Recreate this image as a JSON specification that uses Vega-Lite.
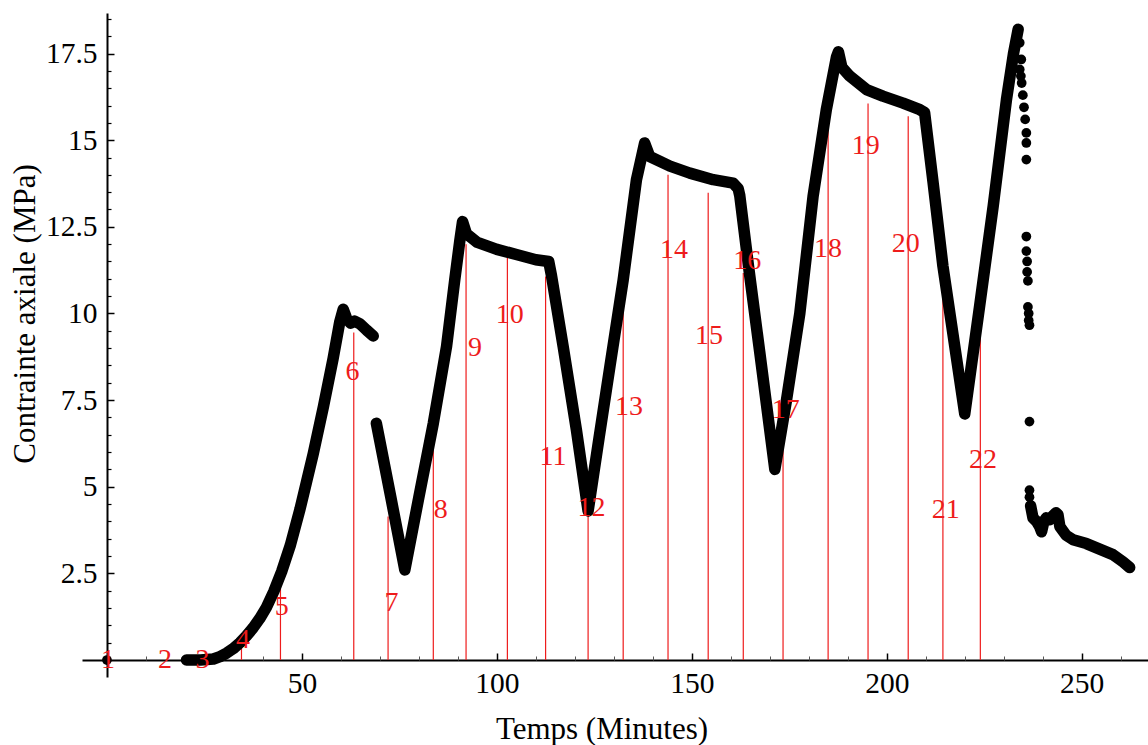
{
  "$schema": "https://vega.github.io/schema/vega-lite/v6.json",
  "width": 1066,
  "height": 664,
  "autosize": {"type": "none"},
  "padding": {"left": 82, "top": 13, "right": 0, "bottom": 68},
  "background": "white",
  "config": {
    "view": {"stroke": null},
    "axis": {"labelFont": "Liberation Serif", "titleFont": "Liberation Serif", "grid": false, "domainColor": "black", "tickColor": "black", "labelColor": "black", "titleColor": "black", "titleFontWeight": "normal", "labelFlush": false, "labelOverlap": false}
  },
  "resolve": {"axis": {"x": "independent", "y": "independent"}},
  "datasets": {
    "curve": [
      {"s": "A", "t": 20.4, "v": 0}, {"s": "A", "t": 24, "v": 0}, {"s": "A", "t": 27.3, "v": 0.03}, {"s": "A", "t": 29, "v": 0.1}, {"s": "A", "t": 30.7, "v": 0.2}, {"s": "A", "t": 32.4, "v": 0.33}, {"s": "A", "t": 34.1, "v": 0.5}, {"s": "A", "t": 35.8, "v": 0.7}, {"s": "A", "t": 37.5, "v": 0.93}, {"s": "A", "t": 39.2, "v": 1.2}, {"s": "A", "t": 40.9, "v": 1.52}, {"s": "A", "t": 42.8, "v": 1.98}, {"s": "A", "t": 44.8, "v": 2.55}, {"s": "A", "t": 47, "v": 3.3}, {"s": "A", "t": 49.5, "v": 4.35}, {"s": "A", "t": 51.2, "v": 5.15}, {"s": "A", "t": 52.9, "v": 5.95}, {"s": "A", "t": 55.5, "v": 7.3}, {"s": "A", "t": 58.0, "v": 8.7}, {"s": "A", "t": 59.7, "v": 9.75}, {"s": "A", "t": 60.6, "v": 10.12}, {"s": "A", "t": 61.5, "v": 9.85}, {"s": "A", "t": 62.5, "v": 9.72}, {"s": "A", "t": 63.5, "v": 9.78}, {"s": "A", "t": 64.9, "v": 9.7}, {"s": "A", "t": 66.6, "v": 9.52}, {"s": "A", "t": 68.3, "v": 9.35},
      {"s": "B", "t": 69.1, "v": 6.83}, {"s": "B", "t": 72.8, "v": 4.7}, {"s": "B", "t": 76.4, "v": 2.6}, {"s": "B", "t": 80, "v": 4.7}, {"s": "B", "t": 83.7, "v": 6.83}, {"s": "B", "t": 87.1, "v": 9.05}, {"s": "B", "t": 89.2, "v": 10.97}, {"s": "B", "t": 90.5, "v": 12.1}, {"s": "B", "t": 91.2, "v": 12.65}, {"s": "B", "t": 92.2, "v": 12.3}, {"s": "B", "t": 95, "v": 12.05}, {"s": "B", "t": 100, "v": 11.85}, {"s": "B", "t": 105, "v": 11.7}, {"s": "B", "t": 110, "v": 11.55}, {"s": "B", "t": 113.3, "v": 11.5}, {"s": "B", "t": 114, "v": 11.1}, {"s": "B", "t": 117, "v": 9.05}, {"s": "B", "t": 120.4, "v": 6.64}, {"s": "B", "t": 123.4, "v": 4.3}, {"s": "B", "t": 126.2, "v": 6.4}, {"s": "B", "t": 129, "v": 8.47}, {"s": "B", "t": 132.4, "v": 10.97}, {"s": "B", "t": 135.8, "v": 13.86}, {"s": "B", "t": 137.9, "v": 14.92}, {"s": "B", "t": 139.2, "v": 14.53}, {"s": "B", "t": 144.4, "v": 14.25}, {"s": "B", "t": 149.5, "v": 14.05}, {"s": "B", "t": 155.5, "v": 13.86}, {"s": "B", "t": 160.6, "v": 13.76}, {"s": "B", "t": 161.9, "v": 13.6}, {"s": "B", "t": 162.3, "v": 13.4}, {"s": "B", "t": 164.5, "v": 11.4}, {"s": "B", "t": 167.4, "v": 8.9}, {"s": "B", "t": 171.3, "v": 5.5}, {"s": "B", "t": 174.3, "v": 7.51}, {"s": "B", "t": 177.7, "v": 10.0}, {"s": "B", "t": 181.1, "v": 13.38}, {"s": "B", "t": 184.5, "v": 15.88}, {"s": "B", "t": 187.1, "v": 17.4}, {"s": "B", "t": 187.6, "v": 17.55}, {"s": "B", "t": 188.5, "v": 17.1}, {"s": "B", "t": 190.5, "v": 16.85}, {"s": "B", "t": 194.8, "v": 16.46}, {"s": "B", "t": 199, "v": 16.27}, {"s": "B", "t": 204.2, "v": 16.07}, {"s": "B", "t": 208.5, "v": 15.88}, {"s": "B", "t": 209.7, "v": 15.8}, {"s": "B", "t": 211.9, "v": 13.76}, {"s": "B", "t": 214.4, "v": 11.37}, {"s": "B", "t": 217.9, "v": 8.7}, {"s": "B", "t": 220, "v": 7.1}, {"s": "B", "t": 223.8, "v": 10.2}, {"s": "B", "t": 227.3, "v": 13.1}, {"s": "B", "t": 230.7, "v": 16.17}, {"s": "B", "t": 232.5, "v": 17.5}, {"s": "B", "t": 233.7, "v": 18.2},
      {"s": "C", "t": 236.9, "v": 4.45}, {"s": "C", "t": 237.5, "v": 4.1}, {"s": "C", "t": 238.4, "v": 4.0}, {"s": "C", "t": 239.2, "v": 3.85}, {"s": "C", "t": 239.7, "v": 3.7}, {"s": "C", "t": 240.3, "v": 4.0}, {"s": "C", "t": 240.9, "v": 4.1}, {"s": "C", "t": 241.8, "v": 4.05}, {"s": "C", "t": 242.6, "v": 4.16}, {"s": "C", "t": 243.4, "v": 4.25}, {"s": "C", "t": 243.9, "v": 4.2}, {"s": "C", "t": 244.4, "v": 3.85}, {"s": "C", "t": 246, "v": 3.6}, {"s": "C", "t": 247.8, "v": 3.47}, {"s": "C", "t": 251.2, "v": 3.36}, {"s": "C", "t": 254.6, "v": 3.2}, {"s": "C", "t": 258, "v": 3.04}, {"s": "C", "t": 260.6, "v": 2.83}, {"s": "C", "t": 262.3, "v": 2.67}
    ],
    "dots": [
      {"t": 0, "v": 0}, {"t": 234.1, "v": 17.81}, {"t": 234.5, "v": 17.33}, {"t": 234.1, "v": 17.04}, {"t": 234.4, "v": 16.85}, {"t": 234.6, "v": 16.65}, {"t": 234.9, "v": 16.3}, {"t": 235.2, "v": 15.95}, {"t": 235.5, "v": 15.6}, {"t": 235.8, "v": 15.21}, {"t": 235.8, "v": 14.92}, {"t": 235.8, "v": 14.44}, {"t": 235.8, "v": 12.22}, {"t": 235.8, "v": 11.8}, {"t": 236.0, "v": 11.5}, {"t": 236.0, "v": 11.2}, {"t": 236.2, "v": 10.94}, {"t": 236.2, "v": 10.19}, {"t": 236.4, "v": 10.0}, {"t": 236.4, "v": 9.8}, {"t": 236.6, "v": 9.66}, {"t": 236.6, "v": 6.88}, {"t": 236.6, "v": 4.9}, {"t": 236.6, "v": 4.7}
    ],
    "marks": [
      {"n": "1", "t": 0.3, "top": 0, "lx": 0.3, "ly": 0},
      {"n": "2", "t": 14.9, "top": 0, "lx": 14.9, "ly": 0},
      {"n": "3", "t": 24.5, "top": 0, "lx": 24.5, "ly": 0},
      {"n": "4", "t": 34.5, "top": 0.75, "lx": 34.9, "ly": 0.58},
      {"n": "5", "t": 44.5, "top": 2.7, "lx": 44.8, "ly": 1.54},
      {"n": "6", "t": 63.3, "top": 9.45, "lx": 63.0, "ly": 8.32},
      {"n": "7", "t": 72.1, "top": 4.14, "lx": 73.0, "ly": 1.64},
      {"n": "8", "t": 83.7, "top": 6.74, "lx": 85.6, "ly": 4.33},
      {"n": "9", "t": 92.1, "top": 12.0, "lx": 94.4, "ly": 9.0},
      {"n": "10", "t": 102.7, "top": 11.6, "lx": 103.3, "ly": 9.96},
      {"n": "11", "t": 112.5, "top": 11.07, "lx": 114.4, "ly": 5.87},
      {"n": "12", "t": 123.4, "top": 4.24, "lx": 124.3, "ly": 4.38},
      {"n": "13", "t": 132.4, "top": 10.93, "lx": 133.9, "ly": 7.31},
      {"n": "14", "t": 143.9, "top": 14.0, "lx": 145.4, "ly": 11.84},
      {"n": "15", "t": 154.2, "top": 13.48, "lx": 154.4, "ly": 9.34},
      {"n": "16", "t": 163.2, "top": 11.17, "lx": 164.2, "ly": 11.5},
      {"n": "17", "t": 173.4, "top": 6.64, "lx": 174.1, "ly": 7.22},
      {"n": "18", "t": 184.96, "top": 15.8, "lx": 184.9, "ly": 11.85},
      {"n": "19", "t": 195.2, "top": 16.06, "lx": 194.6, "ly": 14.84},
      {"n": "20", "t": 205.5, "top": 15.69, "lx": 204.9, "ly": 12.0},
      {"n": "21", "t": 214.4, "top": 11.15, "lx": 215.1, "ly": 4.32},
      {"n": "22", "t": 224.0, "top": 10.41, "lx": 224.7, "ly": 5.76}
    ]
  },
  "layer": [
    {
      "data": {"name": "marks"},
      "mark": {"type": "rule", "color": "#ee1c1c", "strokeWidth": 1.2},
      "encoding": {
        "x": {"field": "t", "type": "quantitative", "scale": {"domain": [-6.4, 267], "nice": false, "zero": false}, "axis": null},
        "y": {"field": "top", "type": "quantitative", "scale": {"domain": [-0.49, 18.67], "nice": false, "zero": false}, "axis": null},
        "y2": {"datum": 0}
      }
    },
    {
      "data": {"name": "curve"},
      "mark": {"type": "line", "color": "black", "strokeWidth": 11.5, "strokeCap": "round", "strokeJoin": "round"},
      "encoding": {
        "x": {"field": "t", "type": "quantitative", "scale": {"domain": [-6.4, 267], "nice": false, "zero": false},
          "axis": {"orient": "bottom", "offset": -17, "values": [50, 100, 150, 200, 250], "tickSize": -7, "tickWidth": 1.5, "domainWidth": 2, "labelFontSize": 29.5, "labelPadding": 16, "title": "Temps (Minutes)", "titleFontSize": 31, "titleX": 519.5, "titleY": 78, "titleBaseline": "alphabetic", "titleAlign": "center"}},
        "y": {"field": "v", "type": "quantitative", "scale": {"domain": [-0.49, 18.67], "nice": false, "zero": false},
          "axis": {"orient": "left", "offset": -25, "values": [2.5, 5, 7.5, 10, 12.5, 15, 17.5], "labelExpr": "toString(datum.value)", "tickSize": -7, "tickWidth": 1.5, "domainWidth": 2, "labelFontSize": 29.5, "labelPadding": 17, "title": "Contrainte axiale (MPa)", "titleFontSize": 31, "titleX": -73, "titleY": 300.5, "titleBaseline": "alphabetic", "titleAlign": "center", "titleAngle": 270}},
        "detail": {"field": "s"}
      }
    },
    {
      "data": {"name": "dots"},
      "mark": {"type": "point", "filled": true, "color": "black", "opacity": 1, "size": 95},
      "encoding": {
        "x": {"field": "t", "type": "quantitative", "scale": {"domain": [-6.4, 267], "nice": false, "zero": false},
          "axis": {"orient": "bottom", "offset": -17, "values": [10, 20, 30, 40, 60, 70, 80, 90, 110, 120, 130, 140, 160, 170, 180, 190, 210, 220, 230, 240, 260], "tickSize": -4, "tickWidth": 1, "tickColor": "#555", "domain": false, "labels": false, "title": null}},
        "y": {"field": "v", "type": "quantitative", "scale": {"domain": [-0.49, 18.67], "nice": false, "zero": false},
          "axis": {"orient": "left", "offset": -25, "values": [0.5, 1, 1.5, 2, 3, 3.5, 4, 4.5, 5.5, 6, 6.5, 7, 8, 8.5, 9, 9.5, 10.5, 11, 11.5, 12, 13, 13.5, 14, 14.5, 15.5, 16, 16.5, 17, 18, 18.5], "tickSize": -4, "tickWidth": 1.2, "domain": false, "labels": false, "title": null}}
      }
    },
    {
      "data": {"name": "marks"},
      "mark": {"type": "text", "color": "#ee1c1c", "font": "Liberation Serif", "fontSize": 28, "align": "center", "baseline": "middle"},
      "encoding": {
        "x": {"field": "lx", "type": "quantitative", "scale": {"domain": [-6.4, 267], "nice": false, "zero": false}, "axis": null},
        "y": {"field": "ly", "type": "quantitative", "scale": {"domain": [-0.49, 18.67], "nice": false, "zero": false}, "axis": null},
        "text": {"field": "n"}
      }
    }
  ]
}
